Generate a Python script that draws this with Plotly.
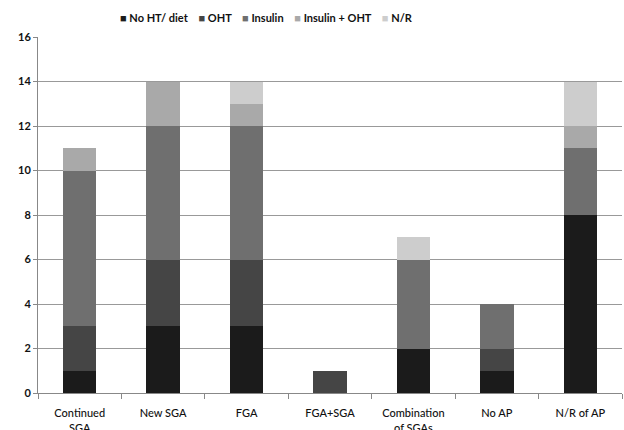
import plotly.graph_objects as go

categories = ["Continued<br>SGA", "New SGA", "FGA", "FGA+SGA", "Combination<br>of SGAs", "No AP", "N/R of AP"]
no_ht_diet = [1, 3, 3, 0, 2, 1, 8]
oht = [2, 3, 3, 1, 0, 1, 0]
insulin = [7, 6, 6, 0, 4, 2, 3]
insulin_oht = [1, 2, 1, 0, 0, 0, 1]
n_r = [0, 0, 1, 0, 1, 0, 2]

series = [
    ("No HT/ diet", no_ht_diet, "#1b1b1b"),
    ("OHT", oht, "#454545"),
    ("Insulin", insulin, "#6f6f6f"),
    ("Insulin + OHT", insulin_oht, "#a9a9a9"),
    ("N/R", n_r, "#cdcdcd"),
]

fig = go.Figure()
for name, vals, color in series:
    fig.add_trace(go.Bar(x=categories, y=vals, name=name, showlegend=False,
                         marker=dict(color=color, line=dict(width=0))))

legend_text = "&nbsp;&nbsp;&nbsp;&nbsp;".join(
    f"<span style='color:{c}'>■</span> {n}" for n, _, c in series
)
fig.add_annotation(text=legend_text, xref="paper", yref="paper", x=0.392, y=1.056,
                   xanchor="center", yanchor="middle", showarrow=False,
                   font=dict(size=11, color="#111", weight="bold"))

fig.update_layout(
    barmode="stack",
    bargap=0.6,
    width=624, height=430,
    autosize=False,
    margin=dict(l=38, r=2, t=37, b=37),
    paper_bgcolor="white", plot_bgcolor="white",
    font=dict(family="Lato, sans-serif", size=11, color="#111"),
    showlegend=False,
    xaxis=dict(showline=True, linecolor="#888", linewidth=1, ticks="outside",
               tickson="boundaries", ticklen=5, tickcolor="#888",
               ticklabelstandoff=10,
               automargin=False, tickfont=dict(size=11, weight=500)),
    yaxis=dict(range=[0, 16], dtick=2, showgrid=True, gridcolor="#999", gridwidth=1,
               showline=True, linecolor="#888", ticks="outside", ticklen=4, tickcolor="#888",
               tickfont=dict(size=11, weight="bold"), automargin=False),
)

post = ("document.body.style.margin='0';document.body.style.overflow='hidden';"
        "var gd=document.getElementById('{plot_id}');"
        "gd.style.width='624px';gd.style.height='430px';"
        "Plotly.relayout(gd,{width:624,height:430});")

fig.write_html("out.html", post_script=post,
               config={"responsive": False, "displayModeBar": False})
